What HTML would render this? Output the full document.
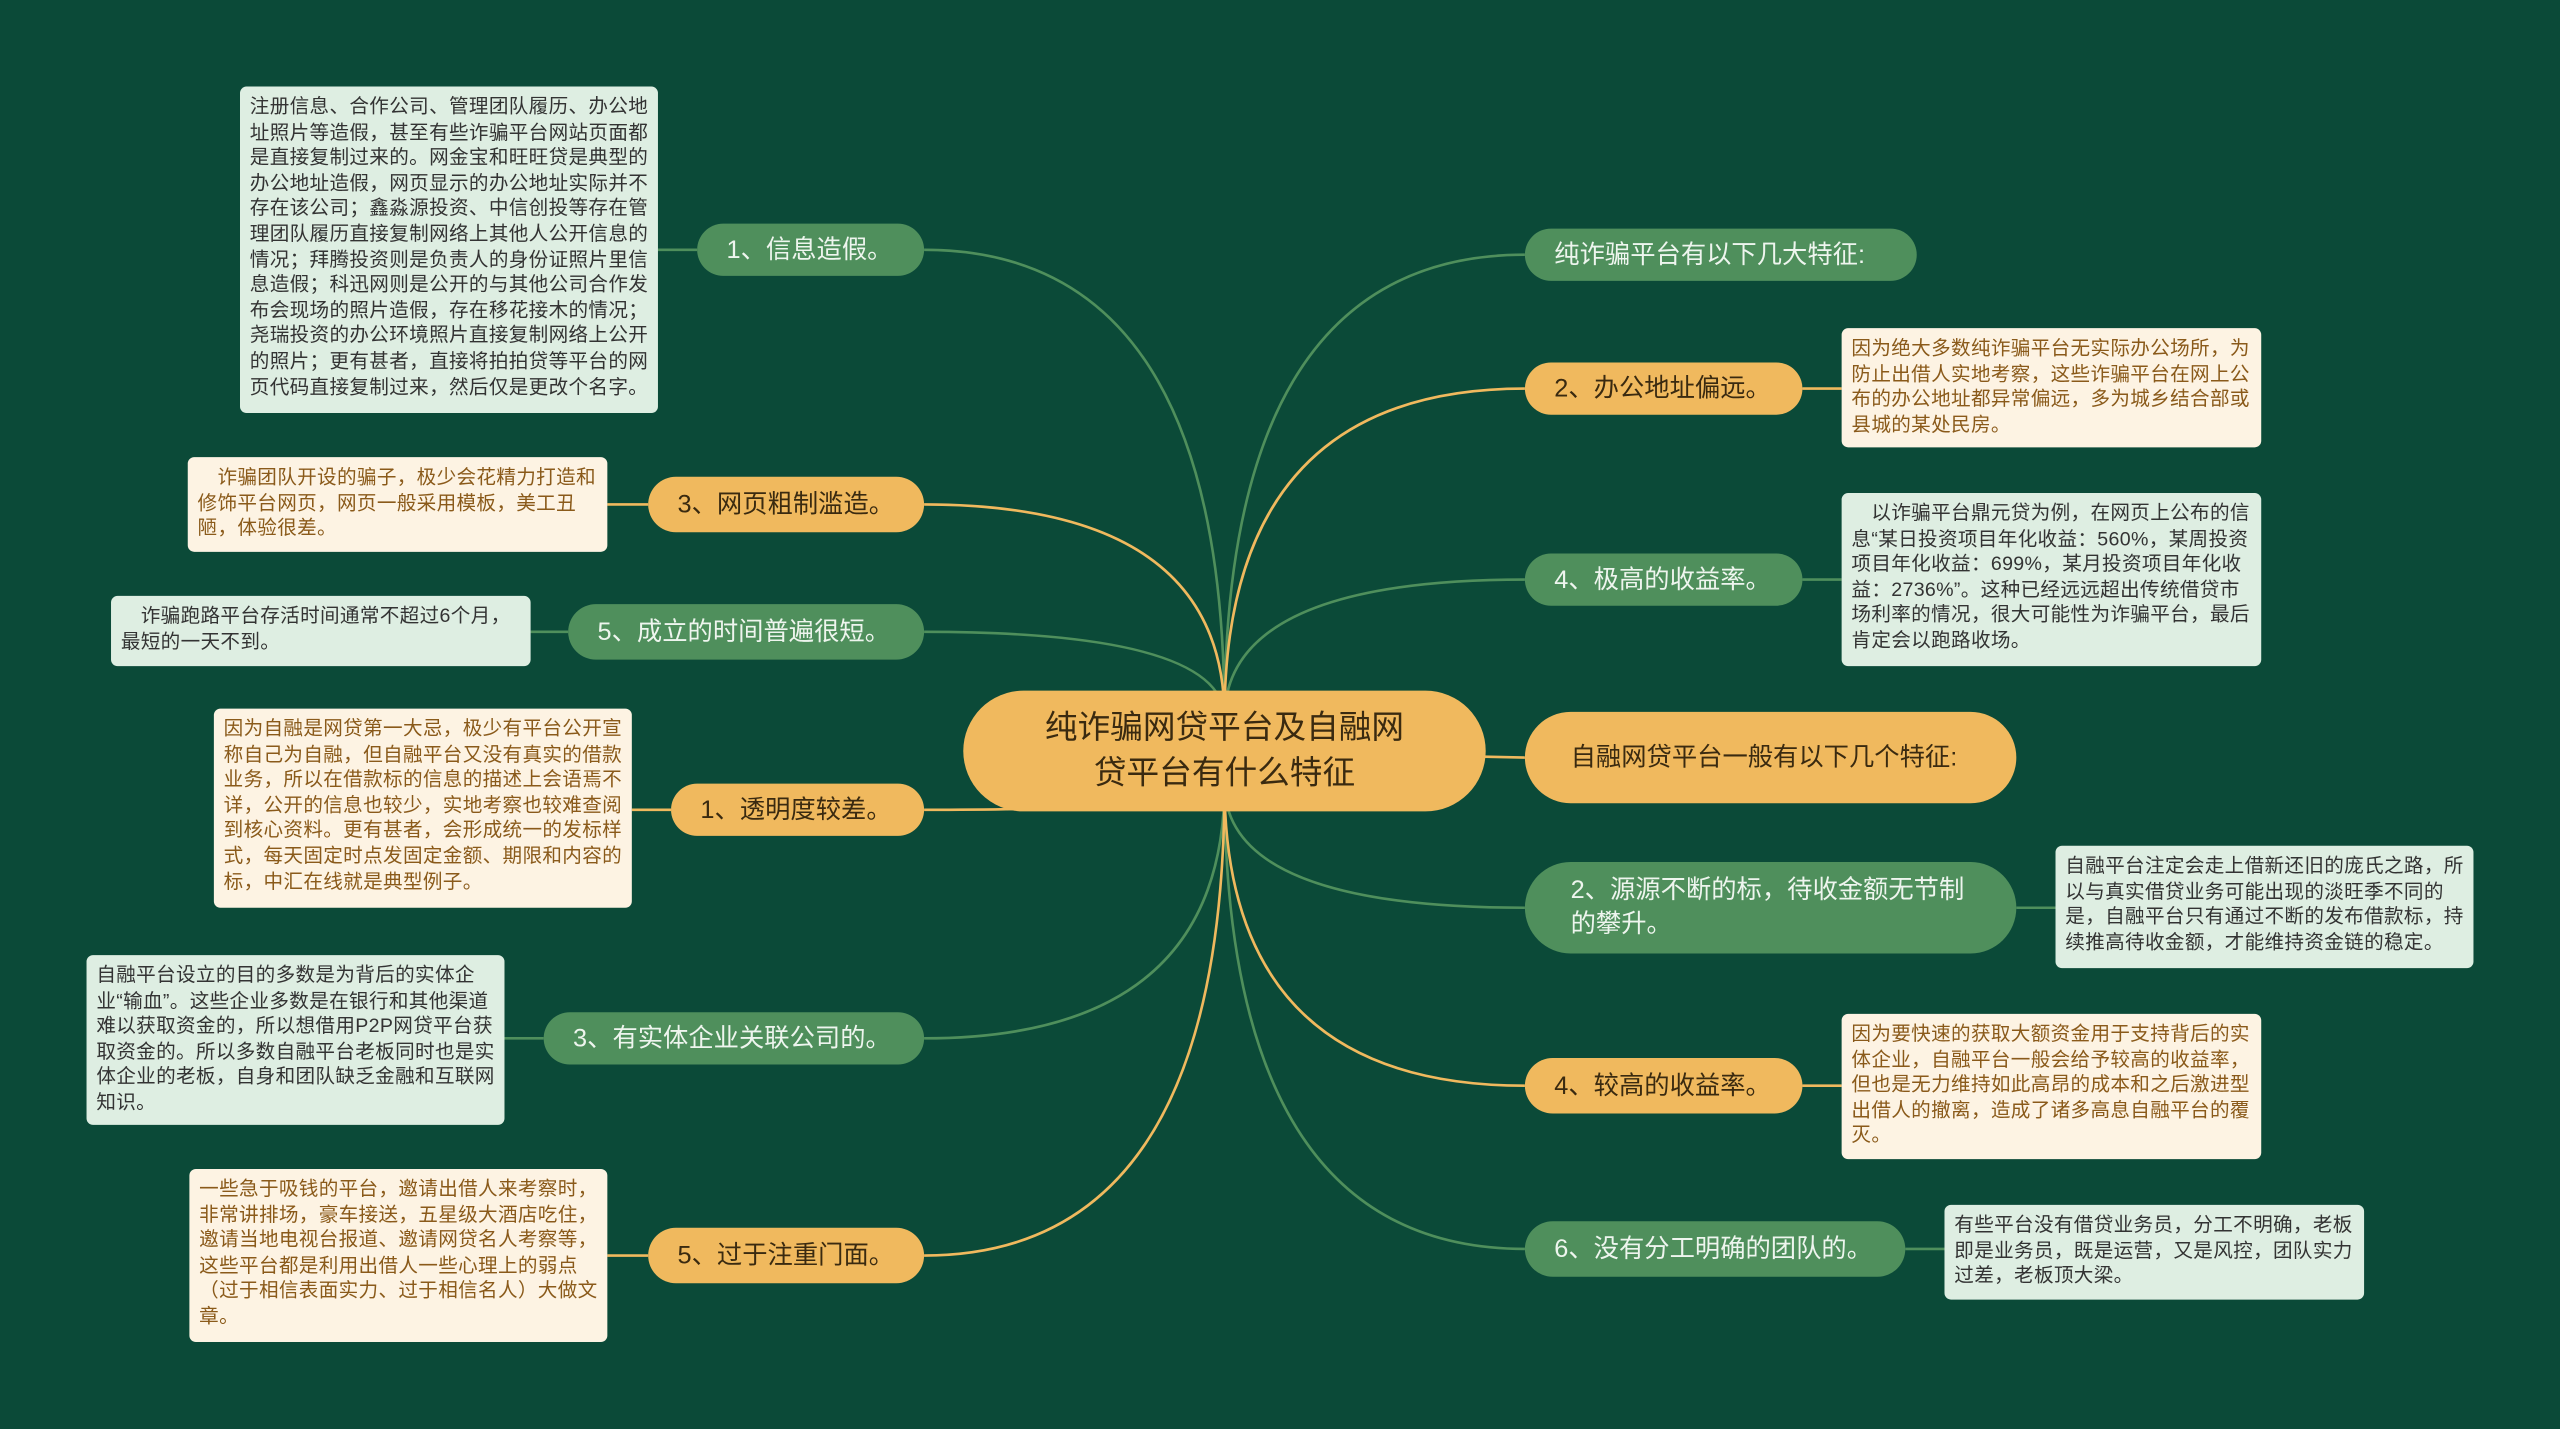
<!DOCTYPE html>
<html><head><meta charset="utf-8"><style>
html,body{margin:0;padding:0;background:#0b4a38;overflow:hidden}
#c{position:relative;width:1568px;height:875px;transform:scale(1.632653);transform-origin:0 0;font-family:"Liberation Sans","Noto Sans CJK SC",sans-serif}
.n{position:absolute;border-radius:18px;display:flex;align-items:center;padding:0 18px;box-sizing:border-box;font-size:15.5px;line-height:21px}
.g{background:#4f8f5c;color:#eef5ee}
.o{background:#f0b95e;color:#3a2a10}
.b{position:absolute;border-radius:4px;box-sizing:border-box;padding:5px 6px;font-size:12px;letter-spacing:0.2px;line-height:15.6px;word-break:break-all}
.bg{background:#deeee2;color:#333}
.bo{background:#fdf3e3;color:#8a5a1a}
svg{position:absolute;left:0;top:0}
</style></head><body><div id="c">
<svg width="1568" height="875" fill="none" stroke-width="1.6">
<g stroke="#4f8f5c">
<path d="M750 440 Q750 153 566 153"/><path d="M750 440 Q750 387 566 387"/><path d="M750 480 Q750 636 566 636"/>
<path d="M750 440 Q750 156 934 156"/><path d="M750 440 Q750 355 934 355"/><path d="M750 480 Q750 556 934 556"/><path d="M750 480 Q750 765 934 765"/>
<path d="M403 153 L427 153"/><path d="M325 387 L348 387"/><path d="M309 636 L333 636"/><path d="M1104 355 L1128 355"/><path d="M1235 556 L1259 556"/><path d="M1167 765 L1191 765"/>
</g>
<g stroke="#f0b95e">
<path d="M750 440 Q750 309 566 309"/><path d="M750 480 Q750 496 566 496"/><path d="M750 480 Q750 769 566 769"/>
<path d="M750 440 Q750 238 934 238"/><path d="M750 460 L934 464"/><path d="M750 480 Q750 665 934 665"/>
<path d="M372 309 L397 309"/><path d="M387 496 L411 496"/><path d="M372 769 L397 769"/><path d="M1104 238 L1128 238"/><path d="M1104 665 L1128 665"/>
</g>
</svg>
<div class="n o" style="left:590px;top:423px;width:320px;height:74px;border-radius:37px;justify-content:center;text-align:center;font-size:20px;line-height:28px;padding:0 46px">纯诈骗网贷平台及自融网贷平台有什么特征</div>

<div class="n g" style="left:427px;top:137px;width:139px;height:32px">1、信息造假。</div>
<div class="b bg" style="left:147px;top:53px;width:256px;height:200px">注册信息、合作公司、管理团队履历、办公地址照片等造假，甚至有些诈骗平台网站页面都是直接复制过来的。网金宝和旺旺贷是典型的办公地址造假，网页显示的办公地址实际并不存在该公司；鑫淼源投资、中信创投等存在管理团队履历直接复制网络上其他人公开信息的情况；拜腾投资则是负责人的身份证照片里信息造假；科迅网则是公开的与其他公司合作发布会现场的照片造假，存在移花接木的情况；尧瑞投资的办公环境照片直接复制网络上公开的照片；更有甚者，直接将拍拍贷等平台的网页代码直接复制过来，然后仅是更改个名字。</div>

<div class="n o" style="left:397px;top:292px;width:169px;height:34px">3、网页粗制滥造。</div>
<div class="b bo" style="left:115px;top:280px;width:257px;height:58px">　诈骗团队开设的骗子，极少会花精力打造和修饰平台网页，网页一般采用模板，美工丑陋，体验很差。</div>

<div class="n g" style="left:348px;top:370px;width:218px;height:34px">5、成立的时间普遍很短。</div>
<div class="b bg" style="left:68px;top:365px;width:257px;height:43px">　诈骗跑路平台存活时间通常不超过6个月，最短的一天不到。</div>

<div class="n o" style="left:411px;top:480px;width:155px;height:32px">1、透明度较差。</div>
<div class="b bo" style="left:131px;top:434px;width:256px;height:122px">因为自融是网贷第一大忌，极少有平台公开宣称自己为自融，但自融平台又没有真实的借款业务，所以在借款标的信息的描述上会语焉不详，公开的信息也较少，实地考察也较难查阅到核心资料。更有甚者，会形成统一的发标样式，每天固定时点发固定金额、期限和内容的标，中汇在线就是典型例子。</div>

<div class="n g" style="left:333px;top:620px;width:233px;height:32px">3、有实体企业关联公司的。</div>
<div class="b bg" style="left:53px;top:585px;width:256px;height:104px">自融平台设立的目的多数是为背后的实体企业“输血”。这些企业多数是在银行和其他渠道难以获取资金的，所以想借用P2P网贷平台获取资金的。所以多数自融平台老板同时也是实体企业的老板，自身和团队缺乏金融和互联网知识。</div>

<div class="n o" style="left:397px;top:752px;width:169px;height:34px">5、过于注重门面。</div>
<div class="b bo" style="left:116px;top:716px;width:256px;height:106px">一些急于吸钱的平台，邀请出借人来考察时，非常讲排场，豪车接送，五星级大酒店吃住，邀请当地电视台报道、邀请网贷名人考察等，这些平台都是利用出借人一些心理上的弱点（过于相信表面实力、过于相信名人）大做文章。</div>

<div class="n g" style="left:934px;top:140px;width:240px;height:32px">纯诈骗平台有以下几大特征:</div>

<div class="n o" style="left:934px;top:222px;width:170px;height:32px">2、办公地址偏远。</div>
<div class="b bo" style="left:1128px;top:201px;width:257px;height:73px">因为绝大多数纯诈骗平台无实际办公场所，为防止出借人实地考察，这些诈骗平台在网上公布的办公地址都异常偏远，多为城乡结合部或县城的某处民房。</div>

<div class="n g" style="left:934px;top:339px;width:170px;height:32px">4、极高的收益率。</div>
<div class="b bg" style="left:1128px;top:302px;width:257px;height:106px">　以诈骗平台鼎元贷为例，在网页上公布的信息“某日投资项目年化收益：560%，某周投资项目年化收益：699%，某月投资项目年化收益：2736%”。这种已经远远超出传统借贷市场利率的情况，很大可能性为诈骗平台，最后肯定会以跑路收场。</div>

<div class="n o" style="left:934px;top:436px;width:301px;height:56px;border-radius:28px;padding:0 28px">自融网贷平台一般有以下几个特征:</div>

<div class="n g" style="left:934px;top:528px;width:301px;height:56px;border-radius:28px;padding:0 28px">2、源源不断的标，待收金额无节制的攀升。</div>
<div class="b bg" style="left:1259px;top:518px;width:256px;height:75px">自融平台注定会走上借新还旧的庞氏之路，所以与真实借贷业务可能出现的淡旺季不同的是，自融平台只有通过不断的发布借款标，持续推高待收金额，才能维持资金链的稳定。</div>

<div class="n o" style="left:934px;top:648px;width:170px;height:34px">4、较高的收益率。</div>
<div class="b bo" style="left:1128px;top:621px;width:257px;height:89px">因为要快速的获取大额资金用于支持背后的实体企业，自融平台一般会给予较高的收益率，但也是无力维持如此高昂的成本和之后激进型出借人的撤离，造成了诸多高息自融平台的覆灭。</div>

<div class="n g" style="left:934px;top:748px;width:233px;height:34px">6、没有分工明确的团队的。</div>
<div class="b bg" style="left:1191px;top:738px;width:257px;height:58px">有些平台没有借贷业务员，分工不明确，老板即是业务员，既是运营，又是风控，团队实力过差，老板顶大梁。</div>
</div></body></html>
